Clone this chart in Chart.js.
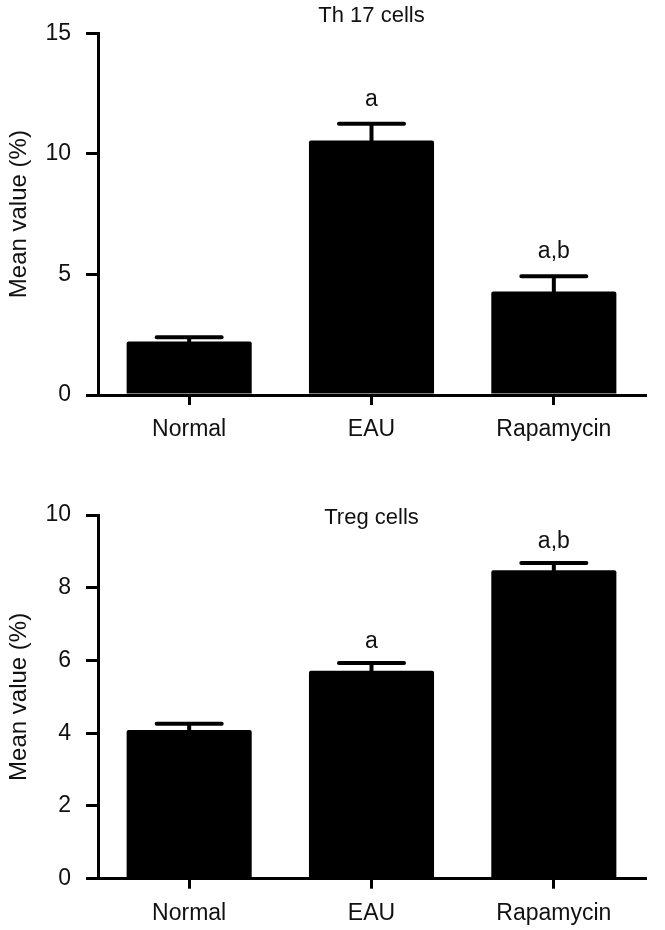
<!DOCTYPE html>
<html>
<head>
<meta charset="utf-8">
<script src="https://cdn.jsdelivr.net/npm/chart.js@4.4.1/dist/chart.umd.min.js"></script>
<style>
  html, body { margin: 0; padding: 0; background: #fff; }
  #wrap { position: relative; width: 665px; height: 930px; }
  .box { position: absolute; left: 0; width: 665px; height: 465px; }
  #b1 { top: 0; }
  #b2 { top: 465px; }
</style>
</head>
<body>
<div id="wrap">
  <div class="box" id="b1"><canvas id="c1" width="665" height="465"></canvas></div>
  <div class="box" id="b2"><canvas id="c2" width="665" height="465"></canvas></div>
</div>
<script>
// ---- data ----
const categories = ["Normal", "EAU", "Rapamycin"];

const th17Title = "Th 17 cells";
const th17Means = [2.22, 10.55, 4.29];
const th17Errors = [0.17, 0.70, 0.63];
const th17Marks = ["", "a", "a,b"];
const th17Ticks = [0, 5, 10, 15];

const tregTitle = "Treg cells";
const tregMeans = [4.09, 5.72, 8.48];
const tregErrors = [0.17, 0.21, 0.20];
const tregMarks = ["", "a", "a,b"];
const tregTicks = [0, 2, 4, 6, 8, 10];

const yAxisTitle = "Mean value (%)";

// ---- styling ----
const FONT = "'Liberation Sans', Arial, Helvetica, sans-serif";
const INK = "#111";

const errorBarPlugin = {
  id: "errorBars",
  afterDatasetsDraw(chart, args, opts) {
    const ctx = chart.ctx;
    const meta = chart.getDatasetMeta(0);
    const ys = chart.scales.y;
    const ds = chart.data.datasets[0];
    ctx.save();
    meta.data.forEach((el, i) => {
      const top = ys.getPixelForValue(ds.data[i] + opts.errors[i]);
      const capHalf = el.width * 0.26;
      ctx.strokeStyle = "#000";
      ctx.lineWidth = 4;
      ctx.lineCap = "round";
      ctx.beginPath();
      ctx.moveTo(el.x, el.y);
      ctx.lineTo(el.x, top);
      ctx.moveTo(el.x - capHalf, top);
      ctx.lineTo(el.x + capHalf, top);
      ctx.stroke();
      const m = opts.marks[i];
      if (m) {
        ctx.fillStyle = INK;
        ctx.font = "23px " + FONT;
        ctx.textAlign = "center";
        ctx.textBaseline = "alphabetic";
        ctx.fillText(m, el.x, top - opts.gap);
      }
    });
    ctx.restore();
  }
};

function makeChart(canvasId, title, means, errors, marks, ticks, geom) {
  const yMax = ticks[ticks.length - 1];
  const step = ticks[1] - ticks[0];
  return new Chart(document.getElementById(canvasId), {
    type: "bar",
    data: {
      labels: categories,
      datasets: [{
        data: means,
        backgroundColor: "#000",
        borderWidth: 0,
        borderRadius: 2,
        borderSkipped: "bottom",
        categoryPercentage: 1,
        barPercentage: 0.686
      }]
    },
    options: {
      responsive: false,
      animation: false,
      devicePixelRatio: 1,
      layout: { padding: { left: 0, right: 20, top: 0, bottom: 0 } },
      plugins: {
        legend: { display: false },
        tooltip: { enabled: false },
        title: {
          display: true,
          text: title,
          fullSize: false,
          color: INK,
          font: { family: FONT, size: 22, weight: "normal", lineHeight: 1.2 },
          padding: { top: geom.titleTop, bottom: geom.titleBottom }
        },
        errorBars: { errors: errors, marks: marks, gap: geom.markGap }
      },
      scales: {
        x: {
          afterFit: (s) => { s.height = geom.xHeight; },
          offset: true,
          grid: {
            offset: false,
            drawOnChartArea: false,
            drawTicks: true,
            tickLength: 10,
            color: "#000",
            lineWidth: 3
          },
          border: { display: true, color: "#000", width: 3 },
          ticks: {
            color: INK,
            padding: 11,
            font: { family: FONT, size: 23 }
          }
        },
        y: {
          min: 0,
          max: yMax,
          afterFit: (s) => { s.width = 98; },
          afterBuildTicks: (s) => { s.ticks = ticks.map(v => ({ value: v })); },
          grid: {
            drawOnChartArea: false,
            drawTicks: true,
            tickLength: 12,
            color: "#000",
            lineWidth: 3
          },
          border: { display: true, color: "#000", width: 3 },
          ticks: {
            stepSize: step,
            color: INK,
            padding: 15,
            font: { family: FONT, size: 23 }
          },
          title: {
            display: true,
            text: yAxisTitle,
            color: INK,
            font: { family: FONT, size: 24, lineHeight: 1.2 },
            padding: { top: 5, bottom: 0 }
          }
        }
      }
    },
    plugins: [errorBarPlugin]
  });
}

makeChart("c1", th17Title, th17Means, th17Errors, th17Marks, th17Ticks,
  { titleTop: 2.5, titleBottom: 4.4, xHeight: 70, markGap: 18 });
makeChart("c2", tregTitle, tregMeans, tregErrors, tregMarks, tregTicks,
  { titleTop: 39.8, titleBottom: -16.2, xHeight: 51.3, markGap: 15 });
</script>
</body>
</html>
